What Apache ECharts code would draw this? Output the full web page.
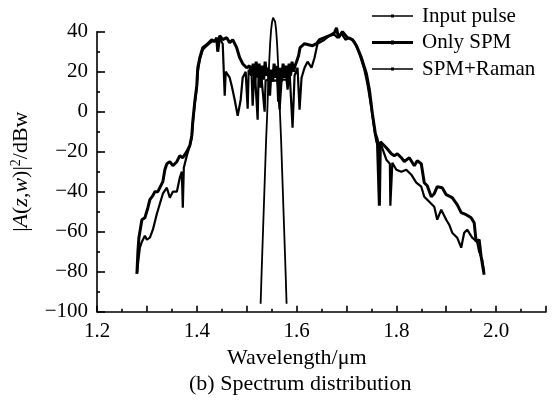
<!DOCTYPE html>
<html>
<head>
<meta charset="utf-8">
<script src="https://cdn.jsdelivr.net/npm/echarts@6/dist/echarts.min.js"></script>
<style>
html,body{margin:0;padding:0;background:#fff;}
#chart{width:552px;height:405px;}
</style>
</head>
<body>
<div id="chart"></div>
<script>
// ---- data (wavelength in um, power in dBw) ----
const seriesNames = ['Input pulse', 'Only SPM', 'SPM+Raman'];
const xTickLabels = ['1.2', '1.4', '1.6', '1.8', '2.0'];

const inputWl = [1.528,1.530,1.533,1.536,1.539,1.541,1.543,1.545,1.547,1.549,1.551,1.553,1.555,1.557,1.559,1.561,1.563,1.565,1.567,1.569,1.572,1.575,1.578,1.580];
const inputDb = [-96,-80,-58,-36,-14,-2,12,24,34,41,45,47,47,45,41,34,24,12,-2,-14,-36,-58,-80,-96];

const spmWl = [1.280,1.282,1.284,1.290,1.296,1.300,1.302,1.306,1.312,1.316,1.322,1.326,1.332,1.336,1.340,1.346,1.352,1.360,1.366,1.372,1.380,1.386,1.390,1.392,1.396,1.400,1.402,1.406,1.412,1.420,1.430,1.436,1.440,1.442,1.446,1.452,1.460,1.466,1.472,1.480,1.486,1.492,1.500,1.506,
1.510,1.513,1.516,1.519,1.522,1.525,1.528,1.531,1.534,1.537,1.540,1.543,1.546,1.549,1.552,1.555,1.558,1.561,1.564,1.567,1.570,1.573,1.576,1.579,1.582,1.585,1.588,1.591,1.594,1.597,1.600,1.604,1.607,1.610,1.616,1.624,1.632,1.640,1.646,1.656,1.666,1.676,1.680,1.684,1.692,1.702,1.712,1.720,1.730,1.740,1.746,1.752,1.758,1.762,1.765,1.766,1.768,1.772,1.780,1.790,1.796,1.802,1.810,1.816,1.826,1.836,1.842,1.850,1.856,1.862,1.870,1.876,1.882,1.892,1.900,1.912,1.922,1.930,1.940,1.950,1.956,1.960,1.966,1.970,1.976];
const spmDb = [-81,-70,-63,-54,-53,-52,-48,-44,-42,-40,-40,-38,-35,-29,-26,-25,-27,-25,-22,-23,-20,-17,-12,-5,5,13,22,27,32,33.5,36,35,37,30,38,36,37,34.5,36,32,27,24,22,23,
18,24,14,25,17,24,12,23,16,25,18,22,8,21,15,24,17,23,5,22,15,24,17,23,14,24,18,25,20,23,25,28,32,33,34,33.5,33,34,36,37,38,39.5,42,37,40,37,36,33,27,19,11,-1,-11,-14,-15,-47,-15,-16,-18,-21,-22,-21,-23,-25,-23,-27,-24.5,-26,-35.5,-37,-42.5,-41,-37.5,-38,-41.5,-43,-46.5,-50.5,-51.5,-53,-55.5,-65,-64,-72.5,-81.5];

const ramanWl = [1.280,1.284,1.286,1.290,1.296,1.300,1.306,1.312,1.320,1.326,1.332,1.340,1.346,1.352,1.360,1.366,1.370,1.372,1.374,1.380,1.386,1.390,1.392,1.396,1.400,1.402,1.406,1.412,1.420,1.430,1.440,1.446,1.452,1.456,1.458,1.460,1.466,1.470,1.476,1.482,1.488,1.492,1.498,1.502,1.504,1.510,1.512,1.516,1.522,1.524,1.530,1.533,1.536,1.538,1.546,1.556,1.562,1.566,1.570,1.580,1.582,1.586,1.592,1.596,1.602,1.606,1.610,1.616,1.622,1.630,1.636,1.642,1.646,1.656,1.666,1.676,1.682,1.690,1.698,1.706,1.716,1.726,1.736,1.742,1.750,1.756,1.760,1.766,1.770,1.780,1.787,1.788,1.792,1.800,1.810,1.820,1.830,1.840,1.850,1.856,1.866,1.876,1.882,1.890,1.900,1.906,1.912,1.922,1.930,1.936,1.942,1.952,1.962,1.966,1.972,1.976];
const ramanDb = [-81,-72,-68,-65,-62,-64,-63,-59,-51,-46,-41,-38,-43,-40,-40,-33,-30,-48,-28,-22,-17,-13,-6,4,12,20,26,31,33,35,36,36.5,34,8,20,19,17,13,6,-2,6,17,20,1.5,21,18,3,22,-4,20,16,15.7,0,15.7,16,15.5,15.7,1,16,16,11,20,-8,18,22,1,17,22,25,22,27,34,35,36,38,38.5,37,39,36,37,35,29,21,14,2,-9,-15,-19,-17,-24,-26,-47,-25.5,-29,-30,-29,-31.5,-35.5,-37.5,-42.5,-45,-47.5,-54,-49,-54,-56.5,-60.5,-63,-68,-60.5,-59,-63,-65,-70,-74,-80];

function pairs(xs, ys) { return xs.map((x, i) => [x, ys[i]]); }

const font = 'Liberation Serif, Times New Roman, serif';
const chart = echarts.init(document.getElementById('chart'), null, {renderer: 'canvas'});

// legend icons: a line with a tiny dot in the middle (box 41 x 4)
const iconThin = 'path://M0 1.3L41 1.3L41 2.7L0 2.7Z M19 0.5L22 0.5L22 3.5L19 3.5Z';
const iconThick = 'path://M0 0.6L41 0.6L41 3.4L0 3.4Z M19 0L22 0L22 4L19 4Z';

const baseSeries = {
  type: 'line',
  symbol: 'none',
  clip: false,
  animation: false,
  color: '#000',
  emphasis: {disabled: true}
};

chart.setOption({
  backgroundColor: '#fff',
  animation: false,
  grid: {left: 97, right: 6, top: 31.7, bottom: 93.3},
  legend: {
    orient: 'vertical',
    left: 372,
    top: 5,
    padding: 0,
    itemWidth: 41,
    itemHeight: 4,
    itemGap: 4.5,
    data: [
      {name: seriesNames[0], icon: iconThin},
      {name: seriesNames[1], icon: iconThick},
      {name: seriesNames[2], icon: iconThin}
    ],
    itemStyle: {color: '#000', borderWidth: 0},
    textStyle: {fontFamily: font, fontSize: 21, color: '#000', padding: [0, 0, 0, 4], lineHeight: 22},
    inactiveColor: '#000'
  },
  xAxis: {
    type: 'value',
    min: 1.2,
    max: 2.1,
    interval: 0.1,
    axisLine: {onZero: false, lineStyle: {color: '#000', width: 1.6}},
    axisTick: {inside: true, length: 6, lineStyle: {color: '#000', width: 1.6}},
    minorTick: {show: true, splitNumber: 2, length: 3, lineStyle: {color: '#000', width: 1.6}},
    splitLine: {show: false},
    axisLabel: {
      fontFamily: font, fontSize: 21, color: '#000', margin: 9,
      formatter: function (v) {
        const s = v.toFixed(1);
        return xTickLabels.indexOf(s) >= 0 ? s : '';
      }
    }
  },
  yAxis: {
    type: 'value',
    min: -100,
    max: 40,
    interval: 20,
    name: '|{i|A}({i|z},{i|w})|{s|2}/dBw',
    nameLocation: 'middle',
    nameGap: 64,
    nameTextStyle: {
      fontFamily: font, fontSize: 22, color: '#000',
      rich: {
        i: {fontFamily: font, fontSize: 22, fontStyle: 'italic', color: '#000'},
        s: {fontFamily: font, fontSize: 14, color: '#000', padding: [0, 0, 10, 0]}
      }
    },
    axisLine: {show: true, onZero: false, lineStyle: {color: '#000', width: 1.6}},
    axisTick: {show: true, inside: true, length: 8, lineStyle: {color: '#000', width: 1.6}},
    minorTick: {show: true, splitNumber: 2, length: 3, lineStyle: {color: '#000', width: 1.6}},
    splitLine: {show: false},
    axisLabel: {
      fontFamily: font, fontSize: 21, color: '#000', margin: 9,
      formatter: function (v) { return v < 0 ? '\u2212' + Math.abs(v) : String(v); }
    }
  },
  graphic: [
    {type: 'text', left: 227, top: 347, style: {text: 'Wavelength/\u03bcm', font: '22px ' + font, fill: '#000'}},
    {type: 'text', left: 189, top: 373, style: {text: '(b) Spectrum distribution', font: '22px ' + font, fill: '#000'}}
  ],
  series: [
    Object.assign({}, baseSeries, {name: seriesNames[0], data: pairs(inputWl, inputDb), lineStyle: {color: '#000', width: 1.8}}),
    Object.assign({}, baseSeries, {name: seriesNames[1], data: pairs(spmWl, spmDb), lineStyle: {color: '#000', width: 3}}),
    Object.assign({}, baseSeries, {name: seriesNames[2], data: pairs(ramanWl, ramanDb), lineStyle: {color: '#000', width: 2.2}})
  ]
});
</script>
</body>
</html>
